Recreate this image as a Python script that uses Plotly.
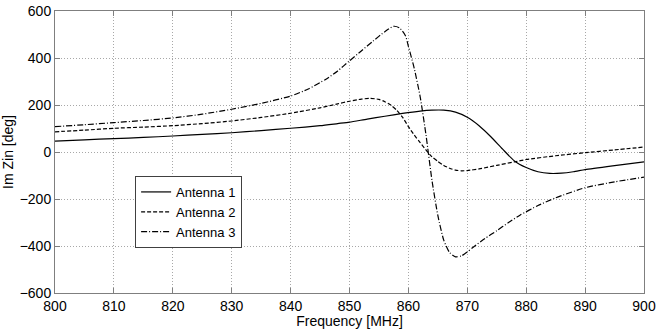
import plotly.graph_objects as go

freq1 = [800, 805, 810, 815, 820, 825, 830, 835, 840, 845, 848, 850, 853, 856, 859, 862, 864, 866, 868, 870, 872, 874, 876, 878, 880, 882, 884, 886, 888, 890, 895, 900]
ant1 = [46, 52, 57, 62, 68, 75, 82, 91, 101, 112, 121, 127, 140, 152, 164, 174, 178, 178, 170, 148, 112, 65, 12, -38, -66, -84, -91, -90, -84, -75, -58, -42]

freq2 = [800, 805, 810, 815, 820, 825, 830, 835, 840, 845, 848, 850, 852, 853.5, 855, 856, 857, 858, 859, 860, 861, 862, 863, 864, 865, 866, 867, 868, 869, 870, 872, 875, 878, 880, 885, 890, 895, 900]
ant2 = [86, 93, 101, 106, 112, 121, 132, 147, 165, 188, 205, 216, 225, 228, 224, 214, 200, 178, 148, 108, 72, 40, 8, -20, -40, -57, -69, -77, -80, -79, -72, -57, -42, -32, -16, -3, 9, 21]

freq3 = [800, 805, 810, 815, 820, 825, 830, 835, 840, 843, 846, 848, 850, 852, 854, 856, 857.5, 858.5, 859.5, 860, 861, 862, 863, 864, 865, 866, 867, 868, 869, 870, 871, 873, 875, 877, 879, 882, 885, 890, 895, 900]
ant3 = [108, 116, 125, 134, 145, 161, 182, 207, 238, 268, 310, 345, 388, 430, 472, 512, 535, 528, 495, 450, 355, 235, 70, -120, -270, -375, -428, -446, -442, -425, -405, -368, -335, -300, -268, -228, -195, -152, -127, -107]

names = ["Antenna 1", "Antenna 2", "Antenna 3"]
dashes = ["solid", "4px,2px", "6px,2px,1px,2px"]

FONT = "Liberation Sans, Arial"

fig = go.Figure()
for f, v, n, d in zip([freq1, freq2, freq3], [ant1, ant2, ant3], names, dashes):
    fig.add_trace(go.Scatter(x=f, y=v, mode="lines", name=n,
                             line=dict(color="black", width=1.2, dash=d, shape="spline", smoothing=0.6)))

axis_common = dict(
    showgrid=True, gridcolor="#a8a8a8", griddash="1px,2px", gridwidth=1,
    showline=True, linecolor="#7f7f7f", linewidth=1, mirror="ticks",
    ticks="inside", ticklen=5, tickcolor="#7f7f7f",
    zeroline=False, automargin=False,
    tickfont=dict(family=FONT, size=14, color="black"),
)

fig.update_xaxes(range=[800, 900], dtick=10, tick0=800,
                 title=dict(text="Frequency [MHz]", standoff=8,
                            font=dict(family=FONT, size=14, color="black")),
                 **axis_common)
fig.update_yaxes(range=[-600, 600], dtick=200, tick0=-600,
                 title=dict(text="Im Zin [deg]", standoff=6,
                            font=dict(family=FONT, size=14, color="black")),
                 **axis_common)

fig.update_layout(
    width=657, height=329,
    margin=dict(l=55, r=13, t=11, b=36),
    plot_bgcolor="white", paper_bgcolor="white",
    showlegend=True,
    legend=dict(x=0.136, y=0.415, xanchor="left", yanchor="top",
                bgcolor="white", bordercolor="#404040", borderwidth=1,
                font=dict(family=FONT, size=13, color="black"),
                itemwidth=30, tracegroupgap=0),
)

fig.write_html("out.html")
